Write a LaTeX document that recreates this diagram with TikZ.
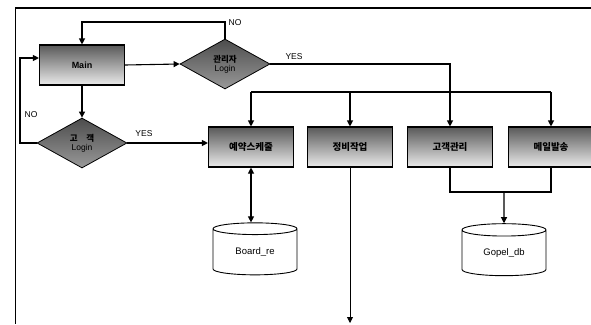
\documentclass[tikz,border=0pt]{standalone}
\usepackage{fontspec}
\setmainfont{Liberation Sans}
\newfontfamily\kr{Noto Sans CJK KR}
\usetikzlibrary{shapes.geometric,arrows.meta,calc}
\tikzset{
  box/.style={draw=black,line width=1.1pt,minimum width=85pt,minimum height=40pt,inner sep=0pt,
    top color=black!65,bottom color=black!8,font=\kr\bfseries\fontsize{9.5}{10}\selectfont},
  dia/.style={diamond,draw=black,line width=0.8pt,minimum width=90pt,minimum height=50pt,inner sep=0pt,aspect=1.8,
    top color=black!70,bottom color=black!40,font=\fontsize{8.5}{9}\selectfont,align=center},
  db/.style={cylinder,shape border rotate=90,aspect=0.3,draw=black,line width=0.9pt,fill=white,
    minimum width=84pt,minimum height=52pt,inner sep=0pt,font=\fontsize{9.5}{10}\selectfont},
  arr/.style={line width=1.1pt,-{Triangle[length=6pt,width=6pt]}},
  ln/.style={line width=1.1pt},
  lbl/.style={font=\fontsize{8.5}{9}\selectfont,inner sep=1pt}
}
\begin{document}
\begin{tikzpicture}[x=1pt,y=-1pt]
\useasboundingbox (0,0) rectangle (591,324);
% frame
\draw[line width=1.4pt] (15,8) -- (591,8);
\draw[line width=0.8pt] (15,8) -- (15,324);
% nodes
\node[box,font=\bfseries\fontsize{9}{10}\selectfont] (main) at (82,65) {Main};
\node[dia] (mgr) at (225,64) {{\kr\bfseries 관리자}\\Login};
\node[dia] (cust) at (82,143) {{\kr\bfseries 고\quad 객}\\Login};
\node[box] (b1) at (251,147) {예약스케줄};
\node[box] (b2) at (350,147) {정비작업};
\node[box] (b3) at (450,147) {고객관리};
\node[box] (b4) at (551,147) {메일발송};
\node[db] (board) at (255,252) {Board\_re};
\node[db] (gopel) at (504,253) {Gopel\_db};
% coordinates
\coordinate (nl) at (225,22);
\coordinate (nol) at (20,58);
\coordinate (bus1) at (251,92);
\coordinate (bus4) at (551,92);
\coordinate (down) at (350,323);
\coordinate (j3) at (450,192);
\coordinate (jm) at (504,192);
% connectors
\draw[arr] (mgr.north) -- (nl) -| (main.north);
\draw[arr] (main.east) -- (mgr.west);
\draw[arr] (mgr.east) -| (b3.north);
\draw[ln] (bus1) -- (bus4);
\draw[arr] (bus1) -- (b1.north);
\draw[arr] (bus1 -| b2.north) -- (b2.north);
\draw[arr] (bus4) -- (b4.north);
\draw[arr] (main.south) -- (cust.north);
\draw[arr] (cust.west) -| (nol) -- (nol -| main.west);
\draw[arr] (cust.east) -- (cust.east -| b1.west);
\draw[line width=1.1pt,{Triangle[length=6pt,width=6pt]}-{Triangle[length=6pt,width=6pt]}] (b1.south) -- (b1.south |- board.north);
\draw[arr,line width=0.8pt] (b2.south) -- (down);
\draw[ln] (b3.south) -- (j3) -| (b4.south);
\draw[arr] (jm) -- (gopel.north);
% labels
\node[lbl] (no1) at (235,23) {NO};
\node[lbl] (yes1) at (294,57) {YES};
\node[lbl] (no2) at (31,115) {NO};
\node[lbl] (yes2) at (144,134) {YES};
\end{tikzpicture}
\end{document}
